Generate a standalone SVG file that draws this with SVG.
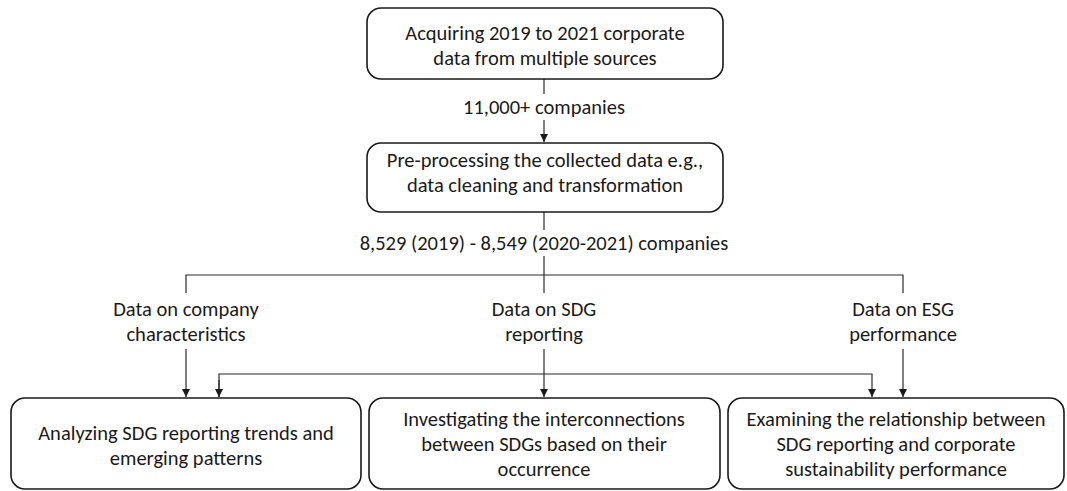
<svg xmlns="http://www.w3.org/2000/svg" width="1067" height="491" viewBox="0 0 1067 491">
<style>
.box{fill:#fff;stroke:#1a1a1a;stroke-width:1.6}
.t{font-family:Carlito,"Liberation Sans",Arial,sans-serif;font-size:20.5px;fill:#1a1a1a;text-anchor:middle}
.ln{fill:none;stroke:#2a2a2a;stroke-width:1.2}
.bg{fill:#fff}
</style>
<defs>
<marker id="ah" markerWidth="10" markerHeight="10" refX="9" refY="5" orient="auto" markerUnits="userSpaceOnUse">
<path d="M1,1 L9,5 L1,9 Z" fill="#1a1a1a"/>
</marker>
</defs>
<rect width="1067" height="491" fill="#fff"/>
<g id="connectors">
<line class="ln" x1="544" y1="79" x2="544" y2="142" marker-end="url(#ah)"/>
<line class="ln" x1="544" y1="212" x2="544" y2="293"/>
<polyline class="ln" points="186,293 186,275 903,275 903,293"/>
<line class="ln" x1="186" y1="349" x2="186" y2="397" marker-end="url(#ah)"/>
<line class="ln" x1="544" y1="349" x2="544" y2="397" marker-end="url(#ah)"/>
<line class="ln" x1="903" y1="349" x2="903" y2="397" marker-end="url(#ah)"/>
<polyline class="ln" points="219,397 219,374 872,374 872,397" marker-end="url(#ah)"/>
<line class="ln" x1="219" y1="380" x2="219" y2="397" marker-end="url(#ah)"/>
<rect class="bg" x="460" y="94" width="168" height="26"/>
<text class="t" x="544" y="114">11,000+ companies</text>
<rect class="bg" x="354" y="230" width="380" height="26"/>
<text class="t" x="544" y="250">8,529 (2019) - 8,549 (2020-2021) companies</text>
</g>
<g id="n1">
<rect class="box" x="367" y="8" width="356" height="71" rx="14"/>
<text class="t" x="545" y="40">Acquiring 2019 to 2021 corporate</text>
<text class="t" x="545" y="65">data from multiple sources</text>
</g>
<g id="n2">
<rect class="box" x="367" y="143" width="356" height="69" rx="14"/>
<text class="t" x="545" y="167">Pre-processing the collected data e.g.,</text>
<text class="t" x="545" y="192">data cleaning and transformation</text>
</g>
<g id="d1">
<text class="t" x="186" y="316">Data on company</text>
<text class="t" x="186" y="341">characteristics</text>
</g>
<g id="d2">
<text class="t" x="544" y="316">Data on SDG</text>
<text class="t" x="544" y="341">reporting</text>
</g>
<g id="d3">
<text class="t" x="903" y="316">Data on ESG</text>
<text class="t" x="903" y="341">performance</text>
</g>
<g id="b1">
<rect class="box" x="11" y="398" width="350" height="91" rx="14"/>
<text class="t" x="186" y="440">Analyzing SDG reporting trends and</text>
<text class="t" x="186" y="465">emerging patterns</text>
</g>
<g id="b2">
<rect class="box" x="369" y="398" width="351" height="91" rx="14"/>
<text class="t" x="544" y="426">Investigating the interconnections</text>
<text class="t" x="544" y="451">between SDGs based on their</text>
<text class="t" x="544" y="476">occurrence</text>
</g>
<g id="b3">
<rect class="box" x="728" y="398" width="336" height="91" rx="14"/>
<text class="t" x="896" y="426">Examining the relationship between</text>
<text class="t" x="896" y="451">SDG reporting and corporate</text>
<text class="t" x="896" y="476">sustainability performance</text>
</g>
</svg>
